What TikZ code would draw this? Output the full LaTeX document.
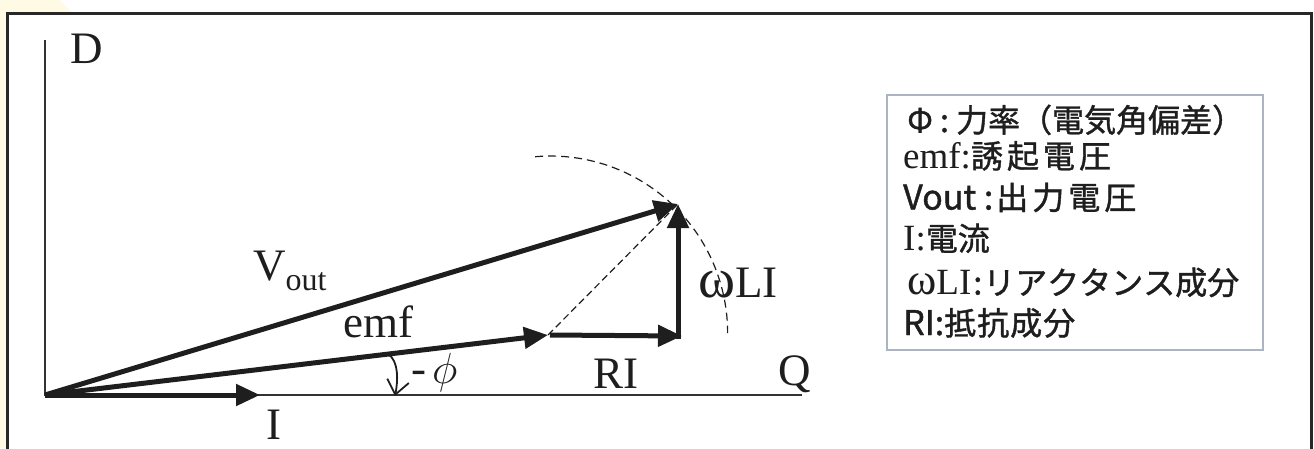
\documentclass[tikz,border=0pt]{standalone}
\usepackage{fontspec}
\usepackage{graphicx}
\setmainfont{Liberation Serif}
\newfontfamily\jp[FakeBold=1.2]{Noto Sans CJK JP}
\usetikzlibrary{arrows.meta}
\definecolor{cream}{RGB}{255,250,228}
\definecolor{framec}{RGB}{40,40,40}
\definecolor{legc}{RGB}{172,180,194}
\definecolor{ink}{RGB}{30,30,30}
\newcommand\trk[2]{\def\trkamt{#1}\trkloop#2\relax}
\def\trkloop#1{\ifx#1\relax\else#1\kern\trkamt\expandafter\trkloop\fi}
\begin{document}
\begin{tikzpicture}[x=1pt,y=1pt,
  vec/.style={line width=5pt, ink, -{Triangle[length=24pt,width=21pt]}},
  axis/.style={line width=1.8pt, color=black!80},
  lbl/.style={font=\fontsize{45}{50}\selectfont, inner sep=0pt, anchor=base west, text=ink},
  leg/.style={inner sep=0pt, anchor=base west, font=\fontsize{37}{42}\selectfont, text=ink},
  thindash/.style={line width=1.2pt, ink, dash pattern=on 7pt off 4pt}]
\useasboundingbox (0,0) rectangle (1314,-448);
\begin{scope}
\clip (0,0) rectangle (1314,-448);
\fill[cream] (0,0) -- (60,0) -- (72,-13) -- (7,-13) -- (7,-448) -- (0,-448) -- cycle;
\draw[framec, line width=3pt] (7,-13) rectangle (1311,-480);
\end{scope}

% coordinates
\coordinate (O) at (45,-395);
\coordinate (Dtop) at (45,-40);
\coordinate (Qend) at (802,-395);
\coordinate (Itip) at (260,-395);
\coordinate (E) at (548,-335);
\coordinate (R) at (682,-336);
\coordinate (Rb) at (678,-338.5);
\coordinate (V) at (678,-204);
\coordinate (arcS) at (535.2,-156.7);
\coordinate (phiA) at (388,-354);
\coordinate (phiB) at (395,-396);

% axes
\draw[axis] (Dtop) -- (O) -- (Qend);

% dashed construction
\draw[thindash] (E) -- (V);
\draw[thindash, dash pattern=on 8pt off 5pt] (arcS) arc[start angle=95, end angle=0, radius=177];

% vectors
\draw[vec] (O) -- (Itip);
\draw[vec] (O) -- (E);
\draw[vec] (O) -- (V);
\draw[vec] ([xshift=2pt]E) -- (R);
\draw[vec] (Rb) -- (V);

% angle arrow
\draw[line width=1.8pt, ink, -{Straight Barb[length=14pt,width=22pt]}] (phiA) .. controls (399,-361) and (398,-381) .. (phiB);

% labels
\node[lbl] (D) at (70,-63) {D};
\node[lbl] (Q) at (778,-385) {Q};
\node[lbl] (Ilab) at (266,-439) {I};
\node[lbl] (Vlab) at (253,-280) {V\raisebox{-10pt}{\fontsize{32}{36}\selectfont out}};
\node[lbl] (emf) at (343,-337) {emf};
\node[lbl] (phi) at (411,-383) {-\kern6pt\scalebox{1.75}{$\phi$}};
\node[lbl] (RI) at (593,-388) {RI};
\node[lbl] (wLI) at (698,-297) {\scalebox{1.25}{ω}LI};

% legend
\draw[legc, line width=2pt, fill=white] (887,-95) rectangle (1263,-350);
\node[leg] (l1) at (907,-132) {\jp\fontsize{32}{36}\selectfont Φ : 力率（電気角偏差）};
\node[leg] (l2) at (903,-168) {emf:{\jp\fontsize{32}{36}\selectfont\trk{4pt}{誘起電圧}}};
\node[leg] (l3) at (903,-209.5) {{\jp\fontsize{34}{40}\selectfont Vout :}{\jp\fontsize{32}{36}\selectfont\kern3pt\trk{4pt}{出力電圧}}};
\node[leg] (l4) at (903,-250.5) {I:{\jp\fontsize{32}{36}\selectfont 電流}};
\node[leg] (l5) at (907,-294.5) {\scalebox{1.2}{ω}LI{\jp\fontsize{32}{36}\selectfont\kern2pt:\kern1pt\trk{0pt}{リアクタンス成分}}};
\node[leg] (l6) at (903,-335) {{\jp\fontsize{34}{40}\selectfont RI:}{\jp\fontsize{32}{36}\selectfont\trk{1pt}{抵抗成分}}};
\end{tikzpicture}
\end{document}
